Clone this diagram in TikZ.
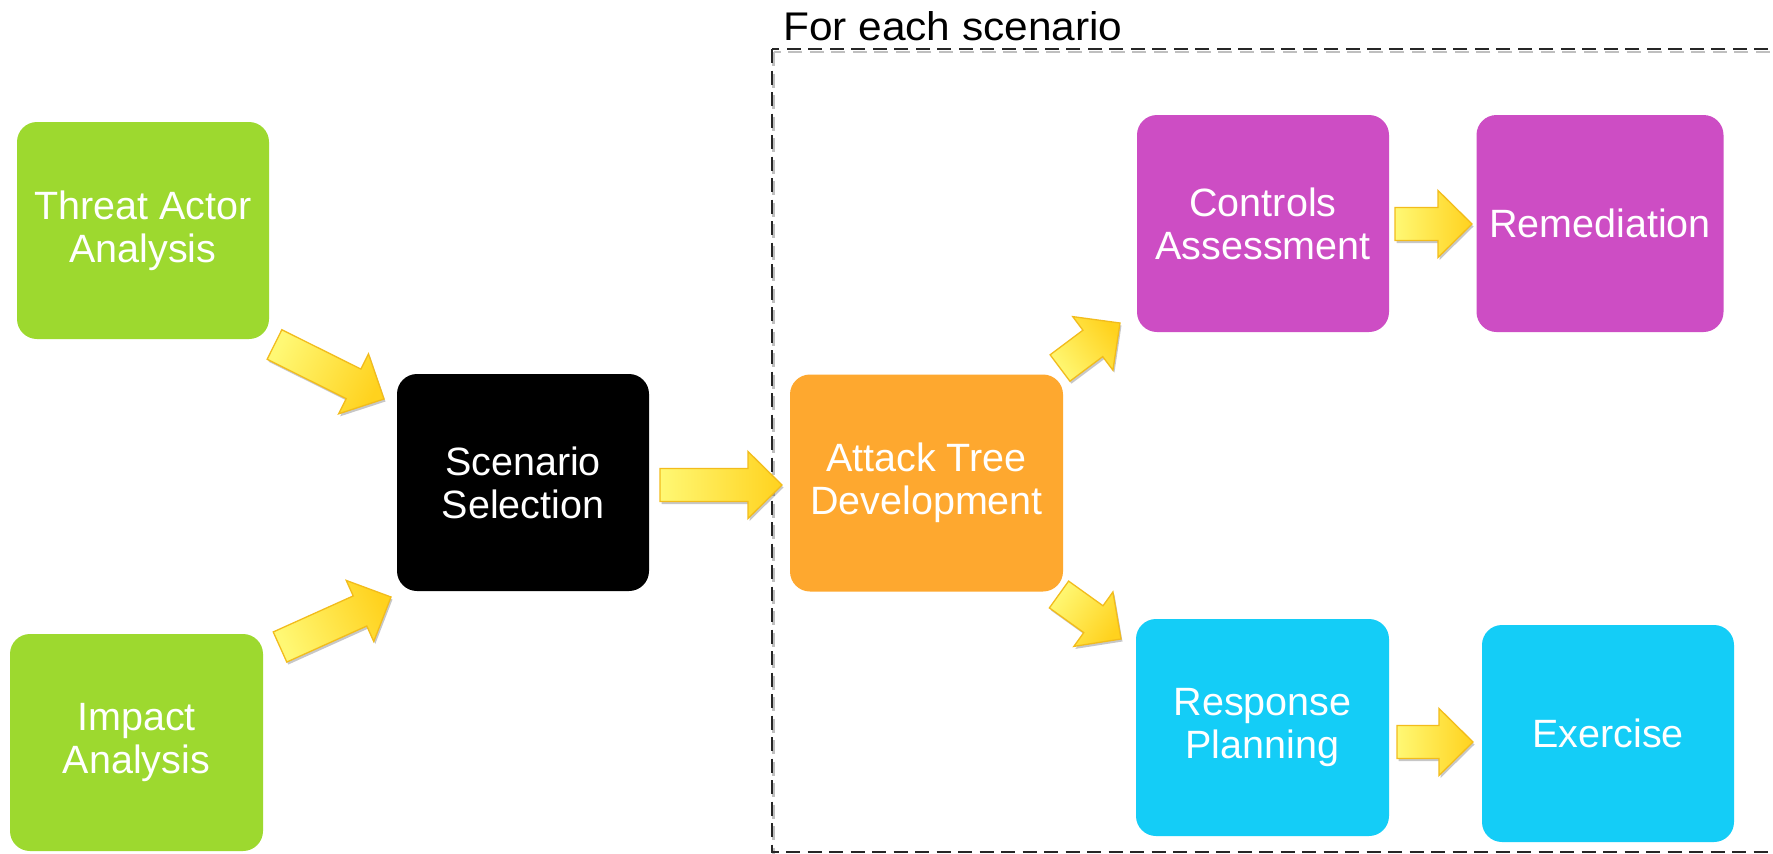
\documentclass[tikz,border=0pt]{standalone}
\usepackage{fontspec}
\setmainfont{Liberation Sans}
\usetikzlibrary{calc,shadows}
\definecolor{cgreen}{HTML}{9DD92F}
\definecolor{cmag}{HTML}{CD4DC4}
\definecolor{corange}{HTML}{FEA82F}
\definecolor{ccyan}{HTML}{14CDF7}
\definecolor{ayellowA}{HTML}{FFF874}
\definecolor{ayellowB}{HTML}{FFD21E}
\definecolor{aline}{HTML}{F2BC1C}
\tikzset{
  box/.style={rectangle, rounded corners=20pt, minimum height=217pt, inner sep=0pt,
    text=white, align=center, font=\fontsize{39.5}{43}\selectfont},
  arrowfill/.style={draw=aline, line width=1.3pt, line join=miter,
    left color=ayellowA, right color=ayellowB,
    drop shadow={shadow xshift=1.5pt, shadow yshift=-2.5pt, opacity=0.22, fill=black}},
  framebox/.style={draw=black!85, dash pattern=on 14pt off 7.5pt, line width=1.8pt},
}
\newcommand\blockarrow[3]{%
  \path[arrowfill, shading angle=#3]
    ($(#1)!16.5pt!90:(#2)$) --
    ($($(#2)!34pt!(#1)$)!16.5pt!90:(#2)$) --
    ($($(#2)!34pt!(#1)$)!33.5pt!90:(#2)$) --
    (#2) --
    ($($(#2)!34pt!(#1)$)!33.5pt!-90:(#2)$) --
    ($($(#2)!34pt!(#1)$)!16.5pt!-90:(#2)$) --
    ($(#1)!16.5pt!-90:(#2)$) -- cycle;}
\begin{document}
\begin{tikzpicture}[x=1pt,y=1pt]
\useasboundingbox (0,0) rectangle (1773,-854);
\clip (0,0) rectangle (1773,-854);
\fill[white] (0,0) rectangle (1773,-854);

% frame
\coordinate (fA) at (772,-49);
\coordinate (fB) at (1800,-852);
\draw[framebox, draw=black!25, line width=2.5pt] ($(fA)+(1.5,-3)$) rectangle ($(fB)+(1.5,-3)$);
\draw[framebox] (fA) rectangle (fB);
\node[anchor=base west, inner sep=0pt, xscale=1.06, font=\fontsize{40}{44}\selectfont] (title) at (783,-40) {For each scenario};

% boxes
\node[box, fill=cgreen, minimum width=252pt] (threat) at (143,-230.5) {Threat Actor\\Analysis};
\node[box, fill=cgreen, minimum width=253pt] (impact) at (136.5,-742.5) {Impact\\Analysis};
\node[box, fill=black, minimum width=252pt] (scen) at (523,-482.5) {Scenario\\Selection};
\node[box, fill=corange, minimum width=273pt] (attack) at (926.5,-483) {Attack Tree\\Development};
\node[box, fill=cmag, minimum width=252pt] (controls) at (1263,-223.5) {Controls\\Assessment};
\node[box, fill=cmag, minimum width=247pt] (remed) at (1600,-223.5) {Remediation};
\node[box, fill=ccyan, minimum width=253pt] (response) at (1262.5,-727.5) {Response\\Planning};
\node[box, fill=ccyan, minimum width=252pt] (exercise) at (1608,-733.5) {Exercise};

% arrows
\coordinate (a1s) at (274.5,-344.5); \coordinate (a1e) at (384,-399);
\coordinate (a2s) at (280,-647);     \coordinate (a2e) at (391,-597);
\coordinate (a3s) at (660,-485);     \coordinate (a3e) at (782,-485);
\coordinate (a4s) at (1060,-368);    \coordinate (a4e) at (1120,-323);
\coordinate (a5s) at (1059,-594.5);  \coordinate (a5e) at (1121,-639);
\coordinate (a6s) at (1395,-224);    \coordinate (a6e) at (1472,-224);
\coordinate (a7s) at (1397,-742);    \coordinate (a7e) at (1473,-742);
\blockarrow{a1s}{a1e}{63.5}
\blockarrow{a2s}{a2e}{114.2}
\blockarrow{a3s}{a3e}{90}
\blockarrow{a4s}{a4e}{126.9}
\blockarrow{a5s}{a5e}{54.3}
\blockarrow{a6s}{a6e}{90}
\blockarrow{a7s}{a7e}{90}
\end{tikzpicture}
\end{document}
